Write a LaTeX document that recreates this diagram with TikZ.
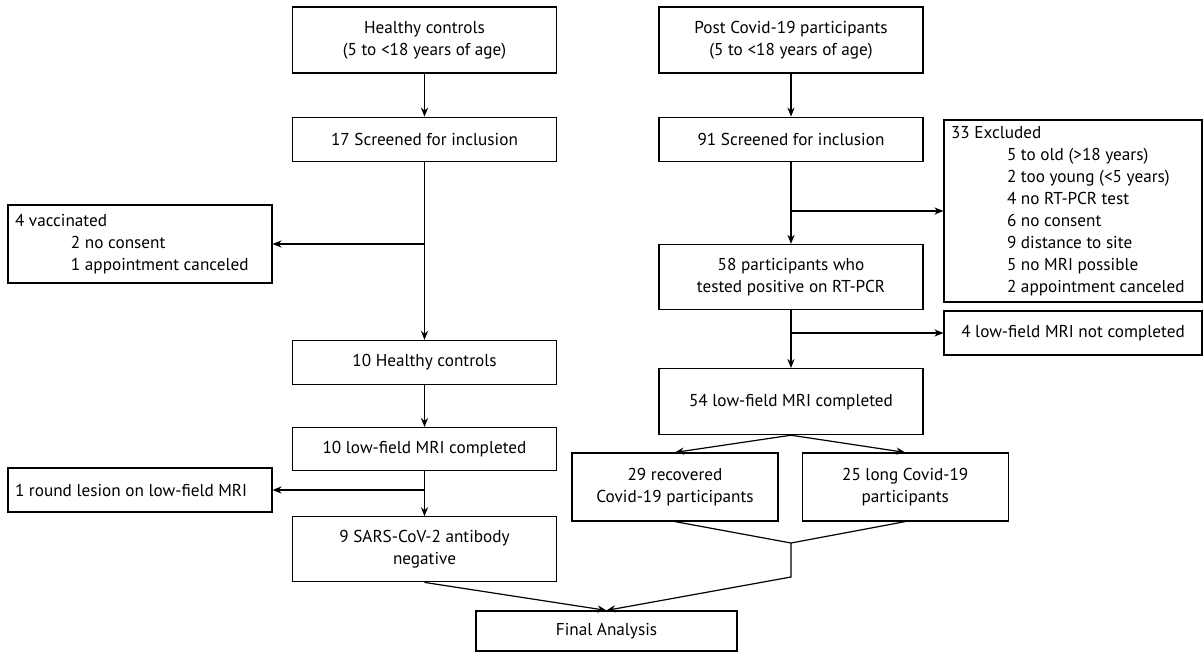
\documentclass[tikz,border=0pt]{standalone}
\usepackage{fontspec}
\setmainfont{PT Sans}
\usepackage{tikz}
\usetikzlibrary{positioning,arrows.meta,calc}

\newcommand{\indln}{\hspace*{28pt}}

\begin{document}
\begin{tikzpicture}[x=0.5pt,y=-0.5pt,->,>={Stealth[length=4.5pt,width=3.6pt]},semithick,
    font=\fontsize{8.6}{11}\selectfont,
    box/.style={draw,rectangle,align=center,minimum width=132pt,inner sep=3pt},
    sidebox/.style={draw,rectangle,align=flush left,inner xsep=3.5pt,inner ysep=2pt}]

  \useasboundingbox (0,0) rectangle (1203,653);

  % healthy controls
  \node[box,minimum height=33pt] (hc) at (424.5,40) {Healthy controls\\(5 to <18 years of age)};
  \node[box,minimum height=22pt] (scrA) [below=21.5pt of hc] {17 Screened for inclusion};
  \node[box,minimum height=22pt] (hcten) [below=89pt of scrA] {10 Healthy controls};
  \node[box,minimum height=21.5pt] (mriten) [below=21pt of hcten] {10 low-field MRI completed};
  \node[box,minimum height=32.5pt] (sars) [below=22.5pt of mriten] {9 SARS-CoV-2 antibody\\negative};

  \node[sidebox,text width=125pt,minimum height=39pt] (vacc) at (140,244)
    {4 vaccinated\\\indln 2 no consent\\\indln 1 appointment canceled};
  \node[sidebox,text width=125pt,minimum height=22pt] (lesion) at (140,490)
    {1 round lesion on low-field MRI};

  % post covid-19
  \node[box,minimum height=33pt] (pc) at (791,40) {Post Covid-19 participants\\(5 to <18 years of age)};
  \node[box,minimum height=22pt] (scrB) [below=21.5pt of pc] {91 Screened for inclusion};
  \node[box,minimum height=32.5pt] (part) [below=41pt of scrB] {58 participants who\\tested positive on RT-PCR};
  \node[box,minimum height=33pt] (mrifs) [below=29pt of part] {54 low-field MRI completed};

  \node[sidebox,text width=122pt,minimum height=91pt] (excl) at (1073,211)
    {33 Excluded\\\indln 5 to old (>18 years)\\\indln 2 too young (<5 years)\\\indln 4 no RT-PCR test\\
     \indln 6 no consent\\\indln 9 distance to site\\\indln 5 no MRI possible\\\indln 2 appointment canceled};
  \node[box,minimum width=129pt,minimum height=22pt] (notc) at (1073,333) {4 low-field MRI not completed};

  \node[box,minimum width=103pt,minimum height=34pt] (rec) at (675,487) {29 recovered\\Covid-19 participants};
  \node[box,minimum width=103pt,minimum height=34pt] (lng) [right=11.5pt of rec] {25 long Covid-19\\participants};

  \node[box,minimum width=130.5pt,minimum height=20pt] (fin) at (606.5,631) {Final Analysis};

  \coordinate (ja) at (scrA.south |- vacc.east);
  \coordinate (jb) at (mriten.south |- lesion.east);
  \coordinate (jc) at (scrB.south |- excl.west);
  \coordinate (jd) at (part.south |- notc.west);
  \coordinate (je) at (791,543);
  \coordinate (jf) at (791,577);

  \draw (hc) -- (scrA);
  \draw (scrA) -- (hcten);
  \draw (ja) -- (vacc);
  \draw (hcten) -- (mriten);
  \draw (mriten) -- (sars);
  \draw (jb) -- (lesion);
  \draw (sars.south) -- (fin.north);

  \draw (pc) -- (scrB);
  \draw (scrB) -- (part);
  \draw (jc) -- (excl);
  \draw (part) -- (mrifs);
  \draw (jd) -- (notc);
  \draw (mrifs.south) -- (rec.north);
  \draw (mrifs.south) -- (lng.north);
  \draw[-] (rec.south) -- (je) -- (lng.south);
  \draw (je) -- (jf) -- (fin.north);
\end{tikzpicture}
\end{document}
